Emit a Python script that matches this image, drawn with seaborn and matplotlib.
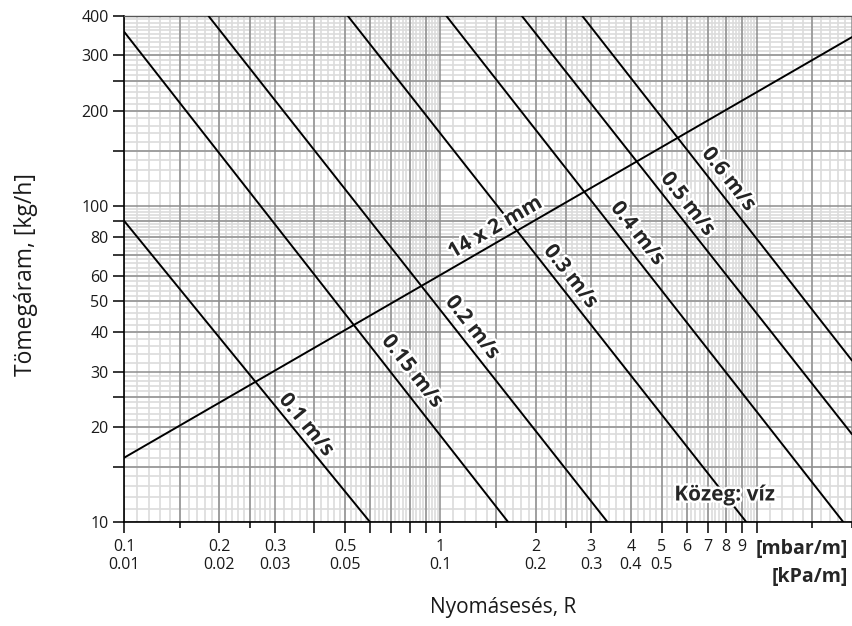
import numpy as np
import pandas as pd
import matplotlib
matplotlib.use("Agg")
import matplotlib.pyplot as plt
import matplotlib.patheffects as pe
from matplotlib.ticker import FixedLocator, FixedFormatter, NullFormatter
import seaborn as sns

sns.set_style("white")
plt.rcParams["font.family"] = ["Open Sans", "DejaVu Sans"]

# Velocity lines: end points (pressure drop R in mbar/m, mass flow in kg/h)
velocity_labels = ["0.1 m/s", "0.15 m/s", "0.2 m/s", "0.3 m/s", "0.4 m/s", "0.5 m/s", "0.6 m/s"]
velocity_r_start = [0.1, 0.1, 0.185, 0.51, 1.045, 1.81, 2.81]
velocity_m_start = [90, 357, 400, 400, 400, 400, 400]
velocity_r_end = [0.6, 1.64, 3.38, 9.28, 18.8, 20.0, 20.0]
velocity_m_end = [10, 10, 10, 10, 10, 19.0, 32.5]
velocity_label_r = [0.377, 0.815, 1.262, 2.58, 4.2, 6.05, 8.15]
velocity_label_m = [20.3, 30.0, 41.3, 59.9, 81.9, 101.4, 121.6]

# Pipe characteristic 14 x 2 mm
pipe_label = "14 x 2 mm"
pipe_r = [0.1, 20.0]
pipe_m = [16.0, 343.0]
pipe_label_r, pipe_label_m = 1.493, 85.6

medium_label = "Közeg: víz"
medium_r, medium_m = 7.92, 12.2

# Axis ticks
x_major = [0.1, 0.2, 0.3, 0.4, 0.5, 0.6, 0.7, 0.8, 0.9, 1, 2, 3, 4, 5, 6, 7, 8, 9, 10]
x_major_labels = ["0.1\n0.01", "0.2\n0.02", "0.3\n0.03", "", "0.5\n0.05", "", "", "", "",
                  "1\n0.1", "2\n0.2", "3\n0.3", "4\n0.4", "5\n0.5", "6", "7", "8", "9", ""]
x_minor = [0.15, 0.25, 1.5, 2.5, 15, 20]
y_ticks = [10, 15, 20, 25, 30, 40, 50, 60, 70, 80, 90, 100, 150, 200, 250, 300, 400]
y_tick_labels = ["10", "", "20", "", "30", "40", "50", "60", "", "80", "", "100", "", "200", "", "300", "400"]

rows = []
for lab, r0, m0, r1, m1 in zip(velocity_labels, velocity_r_start, velocity_m_start,
                               velocity_r_end, velocity_m_end):
    rows.append({"line": lab, "R": r0, "m": m0})
    rows.append({"line": lab, "R": r1, "m": m1})
for r, m in zip(pipe_r, pipe_m):
    rows.append({"line": pipe_label, "R": r, "m": m})
df = pd.DataFrame(rows)

W, H = 852, 626
fig = plt.figure(figsize=(W / 100, H / 100), dpi=100)
left, right, top, bottom = 124, 852, 16, 522.3
ax = fig.add_axes([left / W, (H - bottom) / H, (right - left) / W, (bottom - top) / H])
ax.set_xscale("log")
ax.set_yscale("log")
ax.set_xlim(0.1, 20)
ax.set_ylim(10, 400)

# Log-paper grid
light = "#dcdcdc"
dark = "#8e8e8e"
x_fine = np.concatenate([np.arange(0.11, 0.3, 0.01), np.arange(0.32, 1.0, 0.02),
                         np.arange(1.1, 3.0, 0.1), np.arange(3.2, 10, 0.2),
                         np.arange(11, 20, 1)])
y_fine = np.concatenate([np.arange(11, 30, 1), np.arange(32, 100, 2),
                         np.arange(110, 400, 10)])
xt = ax.get_xaxis_transform()
yt = ax.get_yaxis_transform()
ax.vlines(x_fine, 0, 1, transform=xt, colors=light, lw=1.2, zorder=0)
ax.hlines(y_fine, 0, 1, transform=yt, colors=light, lw=1.2, zorder=0)
ax.vlines(x_major + x_minor, 0, 1, transform=xt, colors=dark, lw=1.1, zorder=0.5)
ax.hlines(y_ticks, 0, 1, transform=yt, colors=dark, lw=1.1, zorder=0.5)

palette = {k: "black" for k in df["line"].unique()}
sns.lineplot(data=df, x="R", y="m", hue="line", palette=palette, units="line",
             estimator=None, legend=False, lw=1.4, ax=ax, zorder=3, sort=False)

ax.spines["right"].set_visible(False)
ax.spines["top"].set_color("#555555")
ax.spines["top"].set_linewidth(1.0)
for s in ["left", "bottom"]:
    ax.spines[s].set_color("black")
    ax.spines[s].set_linewidth(1.2)

ax.xaxis.set_major_locator(FixedLocator(x_major))
ax.xaxis.set_major_formatter(FixedFormatter(x_major_labels))
ax.xaxis.set_minor_locator(FixedLocator(x_minor))
ax.xaxis.set_minor_formatter(NullFormatter())
ax.yaxis.set_major_locator(FixedLocator(y_ticks))
ax.yaxis.set_major_formatter(FixedFormatter(y_tick_labels))
ax.yaxis.set_minor_locator(FixedLocator([]))
ax.tick_params(axis="x", which="major", length=8, width=1.1, color="black",
               labelsize=11.5, pad=4, direction="out", bottom=True, labelcolor="#1a1a1a")
ax.tick_params(axis="x", which="minor", length=4.3, width=1.1, color="black",
               direction="out", bottom=True)
ax.tick_params(axis="y", which="major", length=8, width=1.1, color="black",
               labelsize=11.5, pad=3, direction="out", left=True, labelcolor="#1a1a1a")
for t in ax.get_xticklabels():
    t.set_linespacing(1.15)

ax.set_xlabel("")
ax.set_ylabel("")
fig.text(503 / W, 1 - 607 / H, "Nyomásesés, R", ha="center", va="center", fontsize=15,
         color="#1a1a1a")
fig.text(26 / W, 1 - 275 / H, "Tömegáram, [kg/h]", ha="center", va="center",
         rotation=90, fontsize=16.5, color="#1a1a1a")
fig.text(848 / W, 1 - 549 / H, "[mbar/m]", ha="right", va="center", fontsize=14,
         fontweight="bold")
fig.text(848 / W, 1 - 577 / H, "[kPa/m]", ha="right", va="center", fontsize=14,
         fontweight="bold")

halo = [pe.withStroke(linewidth=3.5, foreground="white")]


def screen_angle(r0, m0, r1, m1):
    p0 = ax.transData.transform((r0, m0))
    p1 = ax.transData.transform((r1, m1))
    return np.degrees(np.arctan2(p1[1] - p0[1], p1[0] - p0[0]))


for lab, r0, m0, r1, m1, lr, lm in zip(velocity_labels, velocity_r_start, velocity_m_start,
                                       velocity_r_end, velocity_m_end,
                                       velocity_label_r, velocity_label_m):
    ang = screen_angle(r0, m0, r1, m1)
    ax.text(lr, lm, lab, rotation=ang, rotation_mode="anchor", ha="center", va="center",
            fontsize=15, fontweight="bold", path_effects=halo, zorder=5)

ang = screen_angle(pipe_r[0], pipe_m[0], pipe_r[1], pipe_m[1])
ax.text(pipe_label_r, pipe_label_m, pipe_label, rotation=ang, rotation_mode="anchor",
        ha="center", va="center", fontsize=15, fontweight="bold", path_effects=halo, zorder=5)
ax.text(medium_r, medium_m, medium_label, ha="center", va="center", fontsize=15,
        fontweight="bold", path_effects=halo, zorder=5)

fig.savefig("out.png", dpi=100, facecolor="white")
